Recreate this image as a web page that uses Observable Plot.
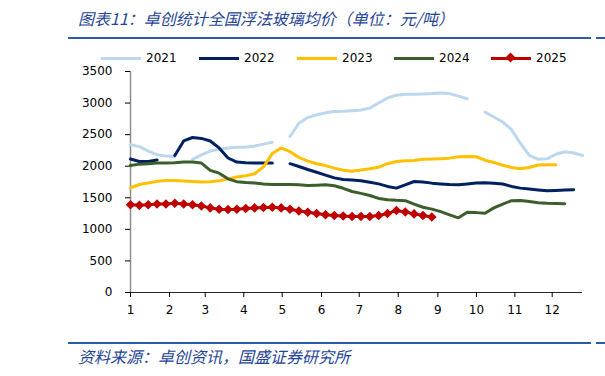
<!DOCTYPE html>
<html><head><meta charset="utf-8">
<script src="https://cdn.jsdelivr.net/npm/d3@7"></script>
<script src="https://cdn.jsdelivr.net/npm/@observablehq/plot@0.6"></script>
<style>
body{margin:0;background:#fff;}
#wrap{position:relative;width:605px;height:376px;overflow:hidden;font-family:"DejaVu Sans",sans-serif;}
.cjk{position:absolute;font-family:"Noto Sans CJK SC",sans-serif;font-style:italic;color:#1F4597;white-space:nowrap;line-height:18px;}
#title{left:78px;top:9px;font-size:16px;}
#source{left:78px;top:347px;font-size:16px;}
.rule{position:absolute;height:2px;background:#2A5AA8;}
#legend{position:absolute;top:50px;left:0;width:605px;height:16px;}
.item{position:absolute;top:0;height:16px;}
.sw{position:absolute;top:7px;width:40px;height:3px;}
.lab{position:absolute;left:45px;top:0;font-size:12px;line-height:16px;color:#000;}
.dia{position:absolute;left:16px;top:4px;width:7px;height:7px;background:#C00000;transform:rotate(45deg);}
#chart{position:absolute;left:0;top:62px;}
</style></head>
<body><div id="wrap">
<div id="title" class="cjk">图表11：卓创统计全国浮法玻璃均价（单位：元/吨）</div>
<div class="rule" style="left:68px;top:37px;width:523px;"></div>
<div class="rule" style="left:596px;top:37px;width:9px;"></div>
<div id="legend"></div>
<div id="chart"></div>
<div class="rule" style="left:68px;top:342px;width:523px;"></div>
<div class="rule" style="left:596px;top:342px;width:9px;"></div>
<div id="source" class="cjk">资料来源：卓创资讯，国盛证券研究所</div>
</div>
<script>
const years = ["2021", "2022", "2023", "2024", "2025"];
const colors = ["#BDD7EE", "#002060", "#FFC000", "#3B5E2B", "#C00000"];
const yTicks = [0, 500, 1000, 1500, 2000, 2500, 3000, 3500];
const monthLabels = ["1","2","3","4","5","6","7","8","9","10","11","12"];
const monthTickWeeks = [1, 5.4, 9.43, 13.78, 18.12, 22.55, 26.81, 31.21, 35.68, 40.04, 44.37, 48.58];

const v2021 = [2340,2310,2240,2180,2160,2155,null,2110,2180,2240,2270,2290,2300,2300,2320,2350,2380,null,2470,2680,2770,2815,2845,2865,2870,2880,2890,2920,3000,3080,3125,3140,3140,3145,3150,3160,3150,3110,3068,null,2856,2780,2700,2580,2360,2170,2110,2117,2190,2230,2210,2170];
const v2022 = [2115,2075,2075,2100,null,2170,2400,2455,2440,2400,2290,2130,2065,2055,2050,2050,2050,null,2040,1995,1948,1905,1860,1815,1790,1780,1770,1745,1720,1680,1653,1705,1758,1750,1732,1720,1710,1706,1720,1735,1737,1730,1718,1680,1653,1640,1625,1611,1615,1622,1627,null];
const v2023 = [1659,1710,1735,1760,1772,1772,1765,1758,1750,1755,1770,1800,1830,1850,1880,1990,2200,2290,2230,2140,2080,2040,2010,1970,1935,1920,1940,1960,1985,2040,2075,2085,2090,2110,2115,2120,2128,2150,2152,2150,2095,2060,2015,1980,1959,1980,2020,2025,2023,null,null,null];
const v2024 = [2012,2033,2040,2049,2052,2054,2068,2068,2050,1935,1890,1800,1755,1742,1735,1720,1711,1711,1711,1705,1695,1700,1705,1690,1650,1600,1570,1536,1490,1470,1460,1455,1400,1350,1320,1280,1230,1183,1270,1265,1256,1340,1400,1455,1457,1440,1420,1412,1408,1405,null,null];
const v2025 = [1390,1380,1390,1400,1400,1415,1400,1390,1370,1340,1320,1315,1320,1330,1340,1345,1350,1340,1320,1290,1270,1250,1230,1220,1210,1205,1205,1205,1220,1250,1300,1275,1245,1220,1195];

const seriesValues = [v2021, v2022, v2023, v2024, v2025];
const rows = [];
years.forEach((yr, i) => seriesValues[i].forEach((v, j) => rows.push({year: yr, week: j + 1, value: v == null ? NaN : v})));

// legend
const leg = document.getElementById("legend");
const legX = [101, 199, 297, 394, 491];
years.forEach((yr, i) => {
  const it = document.createElement("div");
  it.className = "item";
  it.style.left = legX[i] + "px";
  it.innerHTML = `<div class="sw" style="background:${colors[i]}"></div>` +
    (i === 4 ? `<div class="dia"></div>` : "") +
    `<div class="lab">${yr}</div>`;
  leg.appendChild(it);
});

const chart = Plot.plot({
  width: 605, height: 268,
  marginLeft: 130, marginRight: 23, marginTop: 9, marginBottom: 38,
  style: {fontFamily: "DejaVu Sans", fontSize: "12px", color: "#000", background: "transparent", overflow: "visible"},
  x: {domain: [1, 52]},
  y: {domain: [0, 3500]},
  marks: [
    Plot.ruleX([1], {stroke: "#8c8c8c", strokeWidth: 1.5}),
    Plot.ruleY([0], {stroke: "#262626"}),
    Plot.axisY({ticks: yTicks, tickSize: 5, tickPadding: 13, label: null, tickFormat: d => String(d)}),
    Plot.axisX({ticks: monthTickWeeks, tickFormat: (d, i) => monthLabels[i], tickSize: 5, tickPadding: 8, label: null}),
    ...years.map((yr, i) => Plot.line(rows.filter(r => r.year === yr), {x: "week", y: "value", stroke: colors[i], strokeWidth: 3})),
    Plot.dot(rows.filter(r => r.year === "2025"), {x: "week", y: "value", symbol: "diamond2", r: 4.3, fill: "#C00000"})
  ]
});
document.getElementById("chart").appendChild(chart);
</script>
</body></html>
